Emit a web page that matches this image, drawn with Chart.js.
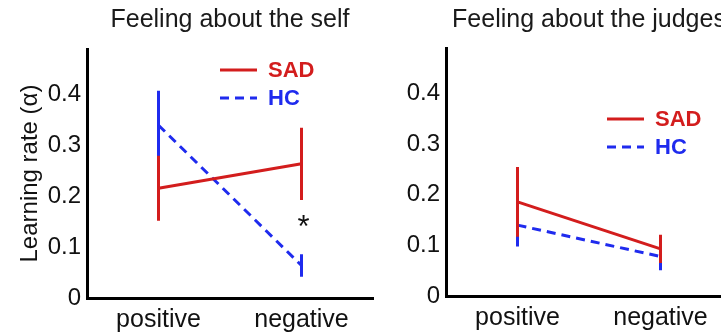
<!DOCTYPE html>
<html>
<head>
<meta charset="utf-8">
<script src="https://cdn.jsdelivr.net/npm/chart.js@4/dist/chart.umd.min.js"></script>
<style>
  html, body { margin: 0; padding: 0; background: #fff; overflow: hidden; }
  #wrap { position: relative; width: 721px; height: 335px; overflow: hidden; }
  canvas { position: absolute; top: 0; }
  #self { left: 0; }
  #judges { left: 360px; }
</style>
</head>
<body>
<div id="wrap">
  <canvas id="self" width="380" height="335"></canvas>
  <canvas id="judges" width="380" height="335"></canvas>
</div>
<script>
// categories and values
var categories = ['positive', 'negative'];

var selfSad = [0.216, 0.264];
var selfSadErr = [0.064, 0.071];
var selfHc = [0.34, 0.064];
var selfHcErr = [0.068, 0.022];

var judgesSad = [0.186, 0.093];
var judgesSadErr = [0.069, 0.028];
var judgesHc = [0.14, 0.078];
var judgesHcErr = [0.042, 0.027];

var seriesNames = ['SAD', 'HC'];
var yMax = 0.49;
var yStep = 0.1;
var selfStar = ['negative', 0.156];   // significance mark

var RED = '#d31d1d';
var BLUE = '#1f2bee';
var FONT = "'Liberation Sans', Arial, Helvetica, sans-serif";

Chart.defaults.font.family = FONT;
Chart.defaults.color = '#111';

function errBars(means, errs, color) {
  return categories.map(function (c, i) {
    return {
      data: [{x: c, y: means[i] - errs[i]}, {x: c, y: means[i] + errs[i]}],
      borderColor: color,
      borderWidth: 3,
      pointRadius: 0,
      fill: false
    };
  });
}

function buildDatasets(sad, sadErr, hc, hcErr) {
  // first dataset is drawn on top, SAD sits over HC
  var sets = [{
    label: seriesNames[0], data: sad, borderColor: RED, borderWidth: 3,
    pointRadius: 0, fill: false
  }];
  sets = sets.concat(errBars(sad, sadErr, RED));
  sets.push({
    label: seriesNames[1], data: hc, borderColor: BLUE, borderWidth: 3,
    borderDash: [9, 6], pointRadius: 0, fill: false
  });
  return sets.concat(errBars(hc, hcErr, BLUE));
}

// legend inside the axes + optional asterisk
function decor(legendAt, star) {
  return {
    id: 'decor',
    afterDraw: function (chart) {
      var ctx = chart.ctx, a = chart.chartArea;
      var rows = [[RED, []], [BLUE, [9, 6]]];
      ctx.save();
      rows.forEach(function (r, i) {
        var y = a.top + legendAt.y + i * 28;
        var x0 = a.left + legendAt.x;
        ctx.beginPath();
        ctx.setLineDash(r[1]);
        ctx.lineWidth = 3;
        ctx.strokeStyle = r[0];
        ctx.moveTo(x0, y);
        ctx.lineTo(x0 + 37, y);
        ctx.stroke();
        ctx.setLineDash([]);
        ctx.fillStyle = r[0];
        ctx.font = 'bold 22px ' + FONT;
        ctx.textBaseline = 'middle';
        ctx.textAlign = 'left';
        ctx.fillText(seriesNames[i], x0 + 48, y + 1);
      });
      if (star) {
        var sx = chart.scales.x.getPixelForValue(categories.indexOf(star[0]));
        var sy = chart.scales.y.getPixelForValue(star[1]);
        ctx.fillStyle = '#111';
        ctx.font = '31px ' + FONT;
        ctx.textAlign = 'center';
        ctx.textBaseline = 'alphabetic';
        ctx.fillText('*', sx + 2, sy + 18);
      }
      ctx.restore();
    }
  };
}

function makePanel(id, title, datasets, opts) {
  return new Chart(document.getElementById(id), {
    type: 'line',
    data: { labels: categories, datasets: datasets },
    options: {
      responsive: false,
      animation: false,
      events: [],
      layout: { padding: { left: 0, right: opts.padRight, top: 0, bottom: 0 } },
      plugins: {
        legend: { display: false },
        tooltip: { enabled: false },
        title: {
          display: true, text: title, fullSize: false, color: '#1a1a1a',
          font: { size: 25, weight: 'normal' },
          padding: { top: 5, bottom: opts.titleGap }
        }
      },
      scales: {
        x: {
          type: 'category', offset: true,
          grid: { drawOnChartArea: false, drawTicks: false },
          border: { display: true, color: '#000', width: 3 },
          ticks: { font: { size: 25 }, padding: 7, maxRotation: 0, autoSkip: false, color: '#111' },
          afterFit: function (s) { s.height = opts.xHeight; }
        },
        y: {
          min: 0, max: yMax,
          grid: { drawOnChartArea: false, drawTicks: false },
          border: { display: true, color: '#000', width: 3 },
          ticks: { stepSize: yStep, includeBounds: false, font: { size: 24 }, padding: 6, color: '#111' },
          title: {
            display: !!opts.yTitle, text: opts.yTitle || '',
            font: { size: 24 }, color: '#111', padding: { top: 16, bottom: 0 }
          },
          afterFit: function (s) { s.width = opts.yWidth; }
        }
      }
    },
    plugins: [decor(opts.legendAt, opts.star)]
  });
}

makePanel('self', 'Feeling about the self',
  buildDatasets(selfSad, selfSadErr, selfHc, selfHcErr),
  { padRight: 7, yWidth: 87, xHeight: 37, titleGap: 14, yTitle: 'Learning rate (\u03b1)',
    legendAt: { x: 133, y: 21 }, star: selfStar });

makePanel('judges', 'Feeling about the judges',
  buildDatasets(judgesSad, judgesSadErr, judgesHc, judgesHcErr),
  { padRight: 8, yWidth: 86, xHeight: 39, titleGap: 13, yTitle: '',
    legendAt: { x: 161, y: 71 }, star: null });
</script>
</body>
</html>
